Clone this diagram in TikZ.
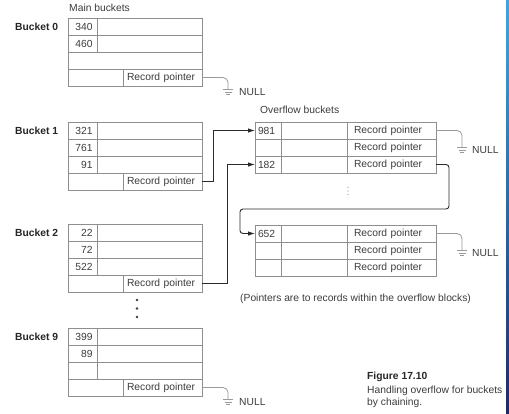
\documentclass[tikz,border=0pt]{standalone}
\usepackage{fontspec}
\setmainfont{Liberation Sans}
\usetikzlibrary{arrows.meta}
\definecolor{boxline}{HTML}{8E8E8E}
\definecolor{txt}{HTML}{3C3C3C}
\definecolor{lab}{HTML}{262626}
\definecolor{wire}{HTML}{2A2A2A}
\definecolor{nullwire}{HTML}{9A9A9A}
\definecolor{bartop}{HTML}{3FA7DD}
\definecolor{barbot}{HTML}{1B2C66}
\tikzset{
  every node/.style={font=\fontsize{10.3}{12}\selectfont, text=txt},
  cellbox/.style={draw=boxline, line width=0.8pt, minimum height=17pt, inner sep=0pt, outer sep=0pt},
  mnum/.style={cellbox, minimum width=29pt, text width=20pt, align=right},
  mrest/.style={cellbox, minimum width=105pt},
  mfull/.style={cellbox, minimum width=134pt},
  mblank/.style={cellbox, minimum width=55pt},
  mptr/.style={cellbox, minimum width=79pt, text width=71pt, align=left},
  onum/.style={cellbox, minimum width=26pt, text width=20pt, align=left},
  omid/.style={cellbox, minimum width=66pt},
  optr/.style={cellbox, minimum width=89pt, text width=75pt, align=left},
  labeltxt/.style={anchor=west, inner sep=0pt, font=\fontsize{10.3}{12}\selectfont\bfseries, text=lab},
  plaintxt/.style={anchor=west, inner sep=0pt},
  arrowwire/.style={draw=wire, line width=0.9pt, -{Latex[length=7pt,width=4.5pt]}},
  nullw/.style={draw=nullwire, line width=0.8pt, rounded corners=5pt},
  groundline/.style={draw=nullwire, line width=0.8pt},
}
\newcommand\GroundAt[1]{%
  \draw[groundline] ([xshift=-5pt]#1) -- ([xshift=5pt]#1)
    ([xshift=-3.5pt,yshift=-2.6pt]#1) -- ([xshift=3.5pt,yshift=-2.6pt]#1)
    ([xshift=-2pt,yshift=-5.2pt]#1) -- ([xshift=2pt,yshift=-5.2pt]#1);}
\begin{document}
\begin{tikzpicture}[x=1pt,y=-1pt]
\useasboundingbox (0,0) rectangle (509,413);
\fill[white] (0,0) rectangle (509,413);
\shade[top color=bartop, bottom color=barbot] (506,0) rectangle (509,413);

% titles
\node[plaintxt] (tmain) at (69,8) {Main buckets};
\node[plaintxt] (tover) at (260,110) {Overflow buckets};

% bucket 0
\node[labeltxt] (lab0) at (15,27) {Bucket 0};
\node[mnum] (b0n1) at (82.5,26.5) {340}; \node[mrest] (b0r1) at (149.5,26.5) {};
\node[mnum] (b0n2) at (82.5,43.5) {460}; \node[mrest] (b0r2) at (149.5,43.5) {};
\node[mfull] (b0r3) at (135,60.5) {};
\node[mblank] (b0l4) at (95.5,77.5) {}; \node[mptr] (b0p) at (162.5,77.5) {Record pointer};

% bucket 1
\node[labeltxt] (lab1) at (15,130.5) {Bucket 1};
\node[mnum] (b1n1) at (82.5,130.5) {321}; \node[mrest] (b1r1) at (149.5,130.5) {};
\node[mnum] (b1n2) at (82.5,147.5) {761}; \node[mrest] (b1r2) at (149.5,147.5) {};
\node[mnum] (b1n3) at (82.5,164.5) {91};  \node[mrest] (b1r3) at (149.5,164.5) {};
\node[mblank] (b1l4) at (95.5,181.5) {}; \node[mptr] (b1p) at (162.5,181.5) {Record pointer};

% bucket 2
\node[labeltxt] (lab2) at (15,233) {Bucket 2};
\node[mnum] (b2n1) at (82.5,232.5) {22};  \node[mrest] (b2r1) at (149.5,232.5) {};
\node[mnum] (b2n2) at (82.5,249.5) {72};  \node[mrest] (b2r2) at (149.5,249.5) {};
\node[mnum] (b2n3) at (82.5,266.5) {522}; \node[mrest] (b2r3) at (149.5,266.5) {};
\node[mblank] (b2l4) at (95.5,283.5) {}; \node[mptr] (b2p) at (162.5,283.5) {Record pointer};

% dots
\foreach \yy in {300,308.5,317} \fill[txt] (137,\yy) circle (1.3pt);

% bucket 9
\node[labeltxt] (lab9) at (15,337) {Bucket 9};
\node[mnum] (b9n1) at (82.5,336.5) {399}; \node[mrest] (b9r1) at (149.5,336.5) {};
\node[mnum] (b9n2) at (82.5,353.5) {89};  \node[mrest] (b9r2) at (149.5,353.5) {};
\node[mnum] (b9n3) at (82.5,370.5) {};    \node[mrest] (b9r3) at (149.5,370.5) {};
\node[mblank] (b9l4) at (95.5,387.5) {}; \node[mptr] (b9p) at (162.5,387.5) {Record pointer};

% overflow block 1
\node[onum] (o1n1) at (268,130.5) {981}; \node[omid] (o1m1) at (314,130.5) {}; \node[optr] (o1p1) at (391.5,130.5) {Record pointer};
\node[onum] (o1n2) at (268,147.5) {};    \node[omid] (o1m2) at (314,147.5) {}; \node[optr] (o1p2) at (391.5,147.5) {Record pointer};
\node[onum] (o1n3) at (268,164.5) {182}; \node[omid] (o1m3) at (314,164.5) {}; \node[optr] (o1p3) at (391.5,164.5) {Record pointer};

\foreach \yy in {187.5,191,194.5} \fill[nullwire] (348,\yy) circle (0.55pt);

% overflow block 2
\node[onum] (o2n1) at (268,233.5) {652}; \node[omid] (o2m1) at (314,233.5) {}; \node[optr] (o2p1) at (391.5,233.5) {Record pointer};
\node[onum] (o2n2) at (268,250.5) {};    \node[omid] (o2m2) at (314,250.5) {}; \node[optr] (o2p2) at (391.5,250.5) {Record pointer};
\node[onum] (o2n3) at (268,267.5) {};    \node[omid] (o2m3) at (314,267.5) {}; \node[optr] (o2p3) at (391.5,267.5) {Record pointer};

\node[plaintxt] (note) at (240,299) {(Pointers are to records within the overflow blocks)};

% pointer arrows
\draw[arrowwire] (b1p.east) -- ++(11,0) |- (o1n1.west);
\draw[arrowwire] (b2p.east) -- ++(25,0) |- (o1n3.west);
\coordinate (t1) at (449,209);
\coordinate (t2) at (240,209);
\draw[arrowwire, rounded corners=3pt] (o1p3.east) -| (t1) -- (t2) |- (o2n1.west);

% NULL pointers
\coordinate (g0) at (228,89.5);
\draw[nullw] (b0p.east) -| (g0);
\GroundAt{g0}
\node[plaintxt] (null0) at (239,92) {NULL};

\coordinate (g1) at (462,147.5);
\draw[nullw] (o1p1.east) -| (g1);
\GroundAt{g1}
\node[plaintxt] (null1) at (472,150) {NULL};

\coordinate (g2) at (462,250.5);
\draw[nullw] (o2p1.east) -| (g2);
\GroundAt{g2}
\node[plaintxt] (null2) at (472,253) {NULL};

\coordinate (g9) at (228,399.5);
\draw[nullw] (b9p.east) -| (g9);
\GroundAt{g9}
\node[plaintxt] (null9) at (239,402) {NULL};

% caption
\node[labeltxt] (figno) at (367,377) {Figure 17.10};
\node[plaintxt] (cap1) at (367,391) {Handling overflow for buckets};
\node[plaintxt] (cap2) at (367,402.5) {by chaining.};
\end{tikzpicture}
\end{document}
